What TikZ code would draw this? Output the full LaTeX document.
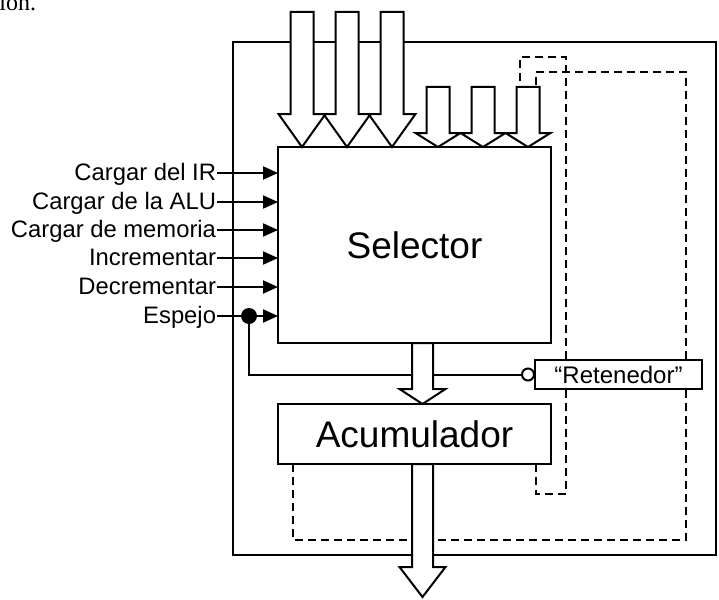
\documentclass[tikz,border=0pt]{standalone}
\usepackage{fontspec}
\setmainfont{Liberation Sans}
\newfontfamily\pageserif{Liberation Serif}
\usetikzlibrary{positioning,calc,arrows.meta}

% hollow bus arrow pointing down: top, tip, half shaft, half head, head length
\newcommand{\fatarrow}[5]{%
  \draw[fat] (#2) -- ++(-#4,-#5) -- ++(#4-#3,0) coordinate (sl)
    -- (sl |- #1) -- ++(2*#3,0) coordinate (sr)
    -- (sr |- sl) -- ++(#4-#3,0) -- cycle;}

\begin{document}
\begin{tikzpicture}[x=1pt,y=-1pt,line width=2pt,
  block/.style={draw,minimum width=273pt,inner sep=0pt,outer sep=0pt,font=\fontsize{37}{44}\selectfont},
  sig/.style={anchor=east,inner sep=0pt,text height=18pt,text depth=4pt,font=\fontsize{23.8}{28}\selectfont},
  wire/.style={-{Triangle[length=15pt,width=13pt]}},
  fat/.style={draw,fill=white,line join=miter},
  feedback/.style={dash pattern=on 8pt off 5pt}]
  \useasboundingbox (0,0) rectangle (719,599);

  % tail of the sentence above the figure
  \node[anchor=base east,inner sep=0pt,font=\pageserif\fontsize{24}{28}\selectfont] (frag) at (37,11) {ción.};

  \node[draw,minimum width=483pt,minimum height=513pt,inner sep=0pt,outer sep=0pt] (chip) at (474.5,298.5) {};
  \node[block,minimum height=196pt] (sel) at (414.5,245) {Selector};
  \node[block,minimum height=60pt,below=61pt of sel] (acu) {Acumulador};

  \foreach \x [count=\i] in {302,347,392} \coordinate (bus\i) at (\x,12);
  \foreach \x [count=\i] in {438,483,528} \coordinate (fb\i) at (\x,87);
  \coordinate (out) at (422.5,597);

  % feedback from the accumulator back to the third small input
  \draw[feedback] ([xshift=-15pt]acu.south east) -- ++(0,30) -- ++(30,0) -- ++(0,-437) -- ++(-46,0) -- ([xshift=-8pt]fb3);
  \draw[feedback] ([xshift=15pt]acu.south west) -- ++(0,76) -- ++(393,0) -- ++(0,-468) -- ++(-150,0) -- ([xshift=8pt]fb3);

  \node[draw,fill=white,inner sep=0pt,outer sep=0pt,minimum width=167pt,minimum height=29pt,
    font=\fontsize{24}{28}\selectfont] (ret) at (618.5,374.5) {“Retenedor”};
  \node[circle,draw,fill=white,inner sep=0pt,outer sep=0pt,minimum size=12pt,anchor=east] (bubble) at ([xshift=-1pt]ret.west) {};

  % control lines
  \foreach \txt/\y [count=\i] in {Cargar del IR/173,Cargar de la ALU/202,Cargar de memoria/230,
      Incrementar/258,Decrementar/287,Espejo/316} {
    \node[sig] (ctl\i) at (217,\y) {\txt};
    \draw[wire] (ctl\i.east) -- (ctl\i.east -| sel.west);
  }
  \path (ctl6.east) ++(32,0) node[circle,fill,inner sep=0pt,minimum size=16pt] (tap) {};
  \draw (tap.center) |- (bubble.west);

  % buses
  \foreach \i in {1,2,3} {
    \fatarrow{bus\i}{bus\i |- sel.north}{11.5}{23.5}{33}
    \fatarrow{fb\i}{fb\i |- sel.north}{11.5}{22.5}{14}
  }
  \fatarrow{sel.south}{[xshift=8pt]acu.north}{10.5}{23}{15}
  \fatarrow{acu.south}{out}{10.5}{23}{30}
\end{tikzpicture}
\end{document}
